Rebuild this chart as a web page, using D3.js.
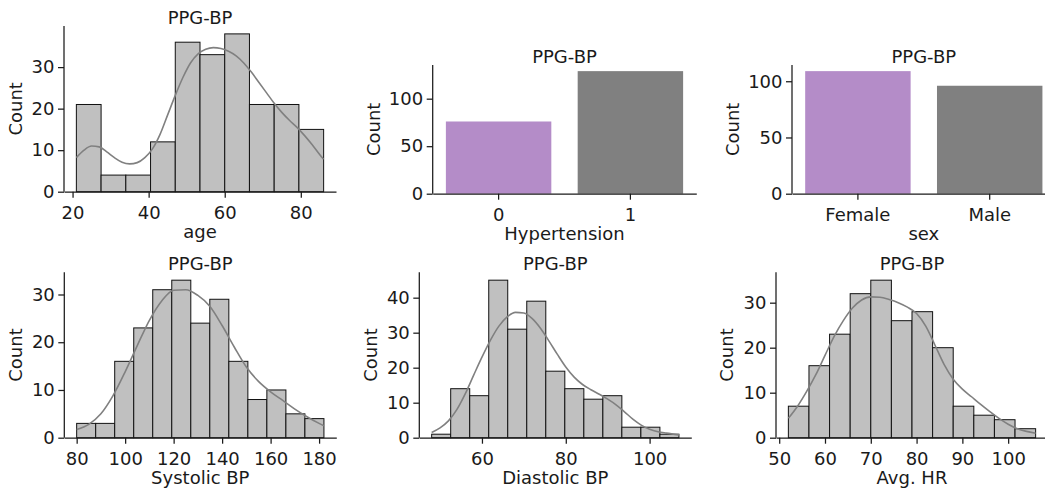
<!DOCTYPE html>
<html><head><meta charset="utf-8">
<script src="https://cdn.jsdelivr.net/npm/d3@7"></script>
<style>
body{margin:0;background:#fff}
svg text{font-family:"DejaVu Sans",sans-serif;fill:#1a1a1a}
</style>
</head><body><svg id="c" width="1045" height="489"></svg>
<script>
// ---------- data ----------
const chartTitle = "PPG-BP";

const ageEdges  = [21, 27.5, 34, 40.5, 47, 53.5, 60, 66.5, 73, 79.5, 86];
const ageCounts = [21, 4, 4, 12, 36, 33, 38, 21, 21, 15];
const ageKdeX   = [21,23,25,27,29,31,33,35,37,39,41,43,45,47,49,51,53,55,57,59,61,63,65,67,69,71,73,75,77,79,81,83,85,86];
const ageKdeY   = [8.2,10.0,11.0,10.8,9.6,8.2,7.1,6.7,7.0,8.2,10.3,13.8,18.5,23.2,27.5,31.0,33.2,34.3,34.7,34.5,33.8,32.7,31.0,28.8,26.3,23.8,21.3,19.1,17.2,15.5,13.5,11.3,8.9,7.8];
const ageTicks  = [20, 40, 60, 80];
const ageYTicks = [0, 10, 20, 30];

const hyperCats   = ["0", "1"];
const hyperCounts = [76, 129];
const hyperYTicks = [0, 50, 100];

const sexCats   = ["Female", "Male"];
const sexCounts = [109, 96];
const sexYTicks = [0, 50, 100];

const sbpEdges  = [80, 87.85, 95.69, 103.54, 111.38, 119.23, 127.08, 134.92, 142.77, 150.62, 158.46, 166.31, 174.15, 182];
const sbpCounts = [3, 3, 16, 23, 31, 33, 24, 29, 16, 8, 10, 5, 4];
const sbpKdeX   = [80,85,90,95,100,105,110,115,120,125,130,135,140,145,150,155,160,165,170,175,180,182];
const sbpKdeY   = [1.7,2.8,5.0,8.8,13.8,19.3,24.6,28.6,30.9,31.0,29.8,27.5,23.5,19.0,14.8,11.8,9.6,7.8,6.0,4.4,3.0,2.5];
const sbpTicks  = [80, 100, 120, 140, 160, 180];
const sbpYTicks = [0, 10, 20, 30];

const dbpEdges  = [48, 52.54, 57.08, 61.62, 66.15, 70.69, 75.23, 79.77, 84.31, 88.85, 93.38, 97.92, 102.46, 107];
const dbpCounts = [1, 14, 12, 45, 31, 39, 19, 14, 11, 12, 3, 3, 1];
const dbpKdeX   = [48,50,52,54,56,58,60,62,64,66,68,70,72,74,76,78,80,82,84,86,88,90,92,94,96,98,100,102,104,107];
const dbpKdeY   = [1.5,2.8,4.8,8.0,12.5,17.8,23.0,27.8,31.8,34.5,35.8,35.6,34.0,31.2,27.6,23.8,20.2,17.3,15.2,13.7,12.4,11.0,9.4,7.4,5.3,3.6,2.4,1.7,1.3,0.8];
const dbpTicks  = [60, 80, 100];
const dbpYTicks = [0, 10, 20, 30, 40];

const hrEdges  = [52, 56.5, 61, 65.5, 70, 74.5, 79, 83.5, 88, 92.5, 97, 101.5, 106];
const hrCounts = [7, 16, 23, 32, 35, 26, 28, 20, 7, 5, 4, 2];
const hrKdeX   = [52,54,56,58,60,62,64,66,68,70,72,74,76,78,80,82,84,86,88,90,92,94,96,98,100,102,104,106];
const hrKdeY   = [4.3,7.0,10.3,14.0,18.3,22.5,26.0,28.8,30.6,31.3,31.2,30.7,30.0,29.0,27.6,24.8,20.6,16.3,13.0,10.8,9.1,7.4,5.8,4.3,3.0,2.0,1.4,1.0];
const hrTicks  = [50, 60, 70, 80, 90, 100];
const hrYTicks = [0, 10, 20, 30];

// ---------- drawing ----------
const svg = d3.select("#c");
const FS = 18;
const INK = "#1a1a1a";

function styleAxis(g) {
  g.selectAll("path.domain").attr("stroke", INK).attr("stroke-width", 1.25);
  g.selectAll(".tick line").attr("stroke", INK).attr("stroke-width", 1.25);
  g.selectAll("text").attr("font-size", FS).attr("fill", INK).attr("font-family", "DejaVu Sans");
}

function frame(g, xs, ys, p) {
  const h = p.height;
  const gx = g.append("g").attr("transform", `translate(0,${h})`)
    .call(p.xAxis);
  styleAxis(gx);
  gx.selectAll(".tick text").attr("y", 27).attr("dy", 0);
  const gy = g.append("g").call(d3.axisLeft(ys).tickValues(p.yticks).tickSize(6).tickSizeOuter(0).tickPadding(3.5));
  styleAxis(gy);
  gy.select("path.domain").attr("d", `M0,${h}V0`);
  g.append("text").attr("x", p.width / 2).attr("y", -2.5)
    .attr("text-anchor", "middle").attr("font-size", FS).text(chartTitle);
  g.append("text").attr("x", p.width / 2).attr("y", h + 46.5)
    .attr("text-anchor", "middle").attr("font-size", FS).text(p.xlabel);
  g.append("text").attr("transform", `translate(${p.ylabelOff},${h / 2}) rotate(-90)`)
    .attr("text-anchor", "middle").attr("font-size", FS).text("Count");
}

function hist(p) {
  const g = svg.append("g").attr("transform", `translate(${p.left},${p.top})`);
  const ext = d3.extent(p.edges), m = (ext[1] - ext[0]) * 0.05;
  const xs = d3.scaleLinear().domain([ext[0] - m, ext[1] + m]).range([0, p.width]);
  const ys = d3.scaleLinear().domain([0, d3.max(p.counts) * 1.05]).range([p.height, 0]);
  g.selectAll("rect.bar").data(p.counts).join("rect")
    .attr("class", "bar")
    .attr("x", (d, i) => xs(p.edges[i]))
    .attr("width", (d, i) => xs(p.edges[i + 1]) - xs(p.edges[i]))
    .attr("y", d => ys(d))
    .attr("height", d => ys(0) - ys(d))
    .attr("fill", "#c0c0c0").attr("stroke", "#111").attr("stroke-width", 1);
  const line = d3.line().x(d => xs(d[0])).y(d => ys(d[1])).curve(d3.curveMonotoneX);
  g.append("path").datum(p.kx.map((x, i) => [x, p.ky[i]]))
    .attr("d", line).attr("fill", "none").attr("stroke", "#808080").attr("stroke-width", 1.6);
  p.xAxis = d3.axisBottom(xs).tickValues(p.xticks).tickSize(6).tickSizeOuter(0);
  frame(g, xs, ys, p);
}

function bars(p) {
  const g = svg.append("g").attr("transform", `translate(${p.left},${p.top})`);
  const xs = d3.scaleBand().domain(p.cats).range([0, p.width]).paddingInner(0.2).paddingOuter(0.1);
  const ys = d3.scaleLinear().domain([0, d3.max(p.counts) * 1.05]).range([p.height, 0]);
  g.selectAll("rect.bar").data(p.counts).join("rect")
    .attr("class", "bar")
    .attr("x", (d, i) => xs(p.cats[i]))
    .attr("width", xs.bandwidth())
    .attr("y", d => ys(d))
    .attr("height", d => ys(0) - ys(d))
    .attr("fill", (d, i) => p.colors[i]);
  p.xAxis = d3.axisBottom(xs).tickSize(6).tickSizeOuter(0);
  frame(g, xs, ys, p);
}

const barColors = ["#b48cc8", "#808080"];

hist({left: 64, top: 26, width: 272, height: 165.7, edges: ageEdges, counts: ageCounts,
      kx: ageKdeX, ky: ageKdeY, xticks: ageTicks, yticks: ageYTicks, xlabel: "age", ylabelOff: -42});
bars({left: 432.7, top: 65, width: 263.6, height: 128.7, cats: hyperCats, counts: hyperCounts,
      colors: barColors, yticks: hyperYTicks, xlabel: "Hypertension", ylabelOff: -53});
bars({left: 792, top: 65, width: 263.6, height: 128.7, cats: sexCats, counts: sexCounts,
      colors: barColors, yticks: sexYTicks, xlabel: "sex", ylabelOff: -53});
hist({left: 64.3, top: 272.3, width: 272, height: 165.4, edges: sbpEdges, counts: sbpCounts,
      kx: sbpKdeX, ky: sbpKdeY, xticks: sbpTicks, yticks: sbpYTicks, xlabel: "Systolic BP", ylabelOff: -42});
hist({left: 419.3, top: 272.3, width: 272, height: 165.4, edges: dbpEdges, counts: dbpCounts,
      kx: dbpKdeX, ky: dbpKdeY, xticks: dbpTicks, yticks: dbpYTicks, xlabel: "Diastolic BP", ylabelOff: -42.6});
hist({left: 776, top: 272.3, width: 272, height: 165.4, edges: hrEdges, counts: hrCounts,
      kx: hrKdeX, ky: hrKdeY, xticks: hrTicks, yticks: hrYTicks, xlabel: "Avg. HR", ylabelOff: -42.7});
</script></body></html>
